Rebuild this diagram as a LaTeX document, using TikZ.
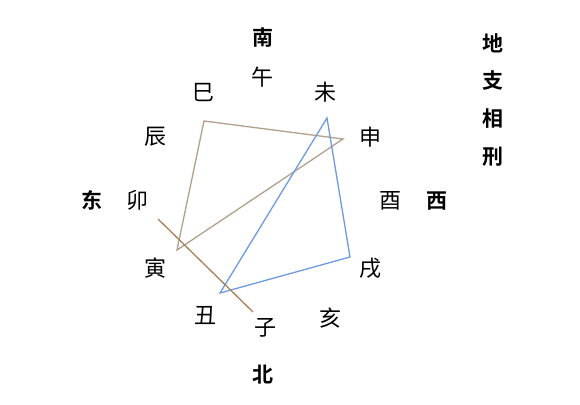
\documentclass[tikz,border=0pt]{standalone}
\usepackage{fontspec}
\newfontfamily\cjk{Noto Sans CJK SC}
\newfontfamily\cjkbold{Noto Sans CJK SC Bold}
\definecolor{xinggray}{HTML}{B0A08C}
\definecolor{xingbrown}{HTML}{A88058}
\definecolor{xingblue}{HTML}{6E9AE0}
\begin{document}
\begin{tikzpicture}[x=1pt, y=-1pt, thick,
					branch/.style = {font=\cjk\fontsize{22}{26}\selectfont, inner sep=0pt},
					dir/.style = {font=\cjkbold\fontsize{21}{25}\selectfont, inner sep=0pt},
					xingA/.style = {draw=xinggray, line width=1.3pt},
					xingB/.style = {draw=xingbrown, line width=1.3pt},
					xingC/.style = {draw=xingblue, line width=1.3pt}]
					
					\useasboundingbox (0,0) rectangle (580,404);
					
					\node[dir] (nan) at (263,38) {南};
					\node[dir] (bei) at (263,375) {北};
					\node[dir] (dong) at (92,200) {东};
					\node[dir] (xi) at (437,201) {西};
					
					\node[branch] (wu) at (262,77) {午};
					\node[branch] (wei) at (325,92) {未};
					\node[branch] (shen) at (370,137) {申};
					\node[branch] (you) at (390,201) {酉};
					\node[branch] (xu) at (370,268) {戌};
					\node[branch] (hai) at (330,318) {亥};
					\node[branch] (zi) at (265,328) {子};
					\node[branch] (chou) at (205,316) {丑};
					\node[branch] (yin) at (155,268) {寅};
					\node[branch] (mao) at (137,200) {卯};
					\node[branch] (chen) at (155,137) {辰};
					\node[branch] (si) at (203,93) {巳};
					
					\coordinate (p-si) at (204,121);
					\coordinate (p-shen) at (343,139);
					\coordinate (p-yin) at (177,250);
					\coordinate (p-wei) at (327,118);
					\coordinate (p-xu) at (350,257);
					\coordinate (p-chou) at (220,293);
					\coordinate (p-mao) at (158,219);
					\coordinate (p-zi) at (253,312);
					
					\draw[xingA] (p-si) -- (p-shen) -- (p-yin) -- cycle;
					\draw[xingC] (p-wei) -- (p-xu) -- (p-chou) -- cycle;
					\draw[xingB] (p-mao) to (p-zi);
					
					\node[dir] (t1) at (493,43) {地};
					\node[dir] (t2) at (493,81) {支};
					\node[dir] (t3) at (493,119) {相};
					\node[dir] (t4) at (493,157) {刑};
				\end{tikzpicture}
\end{document}
